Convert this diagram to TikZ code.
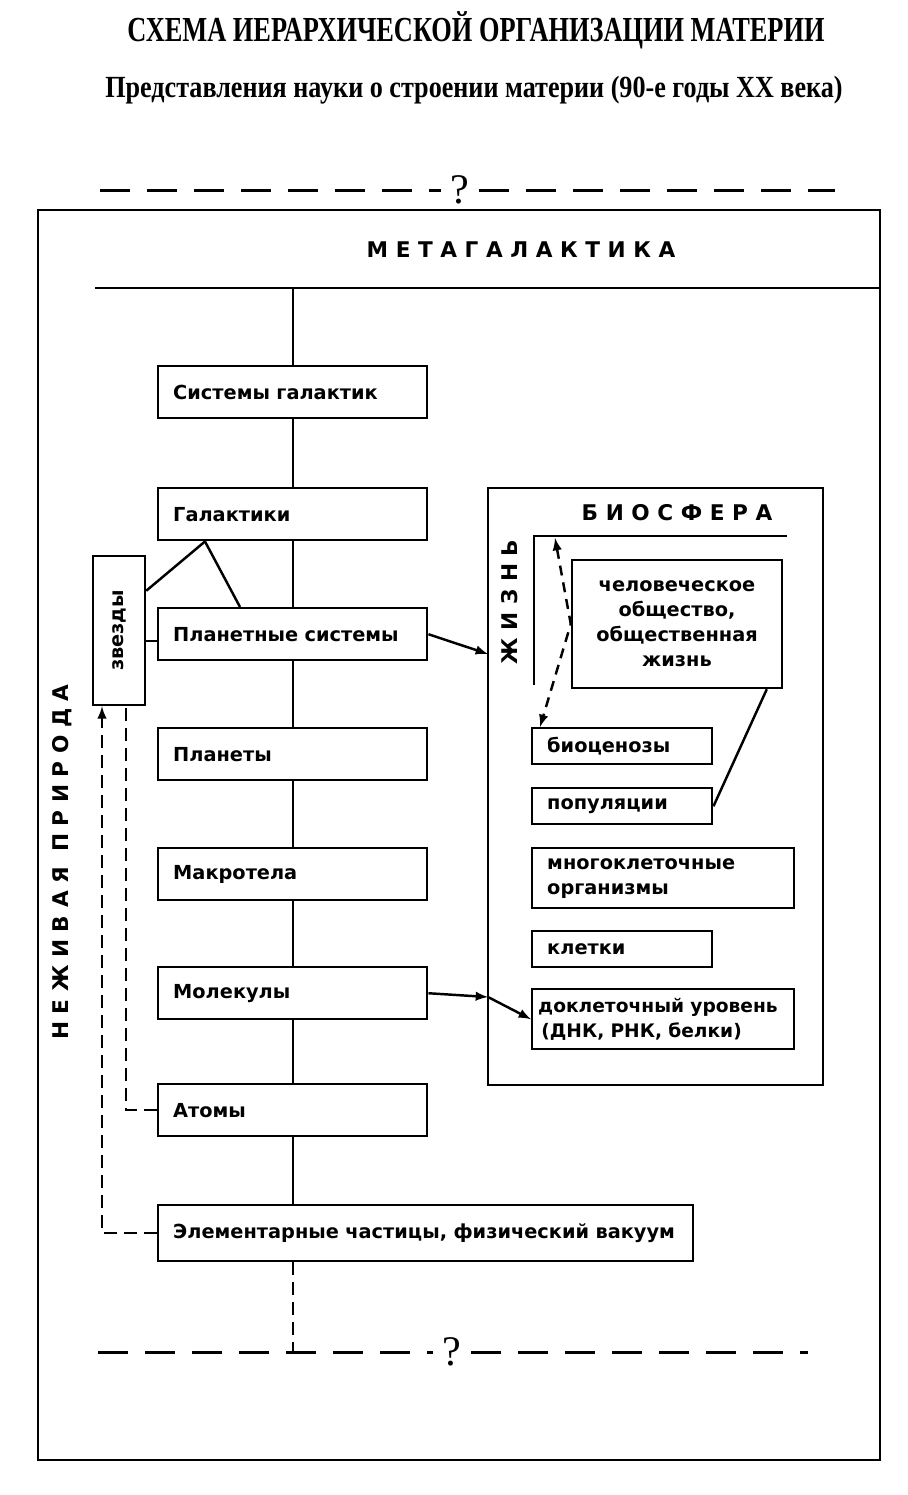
\documentclass[tikz,border=0pt]{standalone}
\usepackage{fontspec}
\setmainfont{Liberation Serif}
\newfontfamily\boxfont{DejaVu Sans}
\newfontfamily\headfont{Liberation Serif}[FakeStretch=0.75]
\newfontfamily\subfont{Liberation Serif}[FakeStretch=0.85]
\newfontfamily\spacefont{DejaVu Sans}[LetterSpace=35]
\usepackage{graphicx}
\usetikzlibrary{arrows}
\tikzstyle{level}=[draw, line width=1.4pt, anchor=north west, minimum height=10.4mm, inner xsep=3mm, inner ysep=1mm, align=left, text width=47.8mm, font=\boxfont\bfseries\fontsize{11}{14.2}\selectfont]
\tikzstyle{small}=[level, text width=30mm, minimum height=7.2mm]
\tikzstyle{wide}=[level, text width=46.4mm, minimum height=12mm]
\tikzstyle{spaced}=[font=\spacefont\bfseries\fontsize{12.3}{14}\selectfont, inner sep=0pt]
\tikzstyle{broken}=[dash pattern=on 2.6mm off 1.4mm]
\tikzstyle{border}=[dash pattern=on 6mm off 3.4mm, line width=1.7pt]
\newcommand{\level}{\node[level]}

\begin{document}
\begin{tikzpicture}[x=0.2mm, y=-0.2mm, line width=1.4pt]
\useasboundingbox (0,0) rectangle (908,1495);

\node[font=\headfont\bfseries\fontsize{20}{24}\selectfont] (23) at (476,30) {СХЕМА ИЕРАРХИЧЕСКОЙ ОРГАНИЗАЦИИ МАТЕРИИ};
\node[font=\subfont\bfseries\fontsize{17.5}{20}\selectfont] (24) at (474,90) {Представления науки о строении материи (90-е годы XX века)};

\coordinate (d1) at (100,190);
\coordinate (d2) at (835,190);
\coordinate (d3) at (98,1352);
\coordinate (d4) at (808,1352);
\node[font=\fontsize{24}{26}\selectfont, inner sep=5pt] (17) at (460,190) {?};
\node[font=\fontsize{24}{26}\selectfont, inner sep=5pt] (18) at (452,1352) {?};
\draw[border] (d1) -- (17);
\draw[border] (17) -- (d2);
\draw[border] (d3) -- (18);
\draw[border] (18) -- (d4);

\draw[line width=1.6pt] (38,210) rectangle (880,1460);
\node[spaced] (19) at (521,250) {МЕТАГАЛАКТИКА};
\coordinate (m) at (95,288);
\coordinate (n) at (880,288);
\draw (m) -- (n);
\node[spaced, rotate=90] (22) at (62,862) {НЕЖИВАЯ ПРИРОДА};

\level (1) at (157,365) {Системы галактик};
    \level (2) at (157,487) {Галактики};
    \level (3) at (157,607) {Планетные системы};
    \level (4) at (157,727) {Планеты};
    \level (5) at (157,847) {Макротела};
    \level (6) at (157,966) {Молекулы};
    \level (7) at (157,1083) {Атомы};
    \level (8) [text width=101mm, minimum height=11.2mm] at (157,1204) {Элементарные частицы, физический вакуум};
    \node[draw, minimum width=10.4mm, minimum height=29.8mm, font=\boxfont\bfseries\fontsize{11}{14}\selectfont] (9) at (119,630.5) {\rotatebox{90}{звезды}};
    ;
    \path[-]
    (1.north |- m) edge (1.north)
    (1) edge (2)
    (2) edge (3)
    (3) edge (4)
    (4) edge (5)
    (5) edge (6)
    (6) edge (7)
    (7.south) edge (7.south |- 8.north)
    ([xshift=9.6mm]2.south west) edge ([yshift=-7.2mm]9.north east)
    ([xshift=9.6mm]2.south west) edge ([xshift=16.6mm]3.north west)
    ([yshift=-1.4mm]3.west) edge ([yshift=-1.4mm]3.west -| 9.east)
    ;
\draw[broken] (7.south |- 8.south) -- (7.south |- 18);
\draw[broken, -latex] (8.west) -| ([xshift=-3.4mm]9.south);
\draw[broken] (7.west) -| ([xshift=1.4mm]9.south);

\node[draw, minimum width=67mm, minimum height=119.4mm] (16) at (655.5,786.5) {};
\node[spaced] (20) at (677,513) {БИОСФЕРА};
\node[spaced, rotate=90] (21) at (510,602) {ЖИЗНЬ};
\coordinate (z1) at (534,685);
\coordinate (z2) at (787,536);
\coordinate (z3) at (555,538);
\draw (z1) |- (z2);

\node[level, anchor=center, align=center, text width=36mm, minimum height=25.6mm, inner xsep=3mm] (10) at (677,624) {человеческое\\общество,\\общественная\\жизнь};
    \node[small] (11) at (531,727) {биоценозы};
    \node[small] (12) at (531,787) {популяции};
    \node[wide] (13) at (531,847) {многоклеточные\\организмы};
    \node[small] (14) at (531,930) {клетки};
    \node[wide, inner xsep=1.2mm, text width=50mm, font=\boxfont\bfseries\fontsize{10.6}{14.2}\selectfont] (15) at (531,988) {доклеточный уровень\\\,(ДНК, РНК, белки)};
    ;
    \path[-]
    (10.-36) edge (12.east)
    ;
\draw[dash pattern=on 2mm off 1.4mm, latex-latex] (z3) -- (10.west) -- ([xshift=1.8mm]11.north west);

\coordinate (p1) at (488,654);
\coordinate (p2) at (488,997);
\draw[-latex] (3.east) -- (p1);
\draw[-latex] (6.east) -- (p2);
\draw[-latex] (p2) -- (15.west);
\end{tikzpicture}
\end{document}
